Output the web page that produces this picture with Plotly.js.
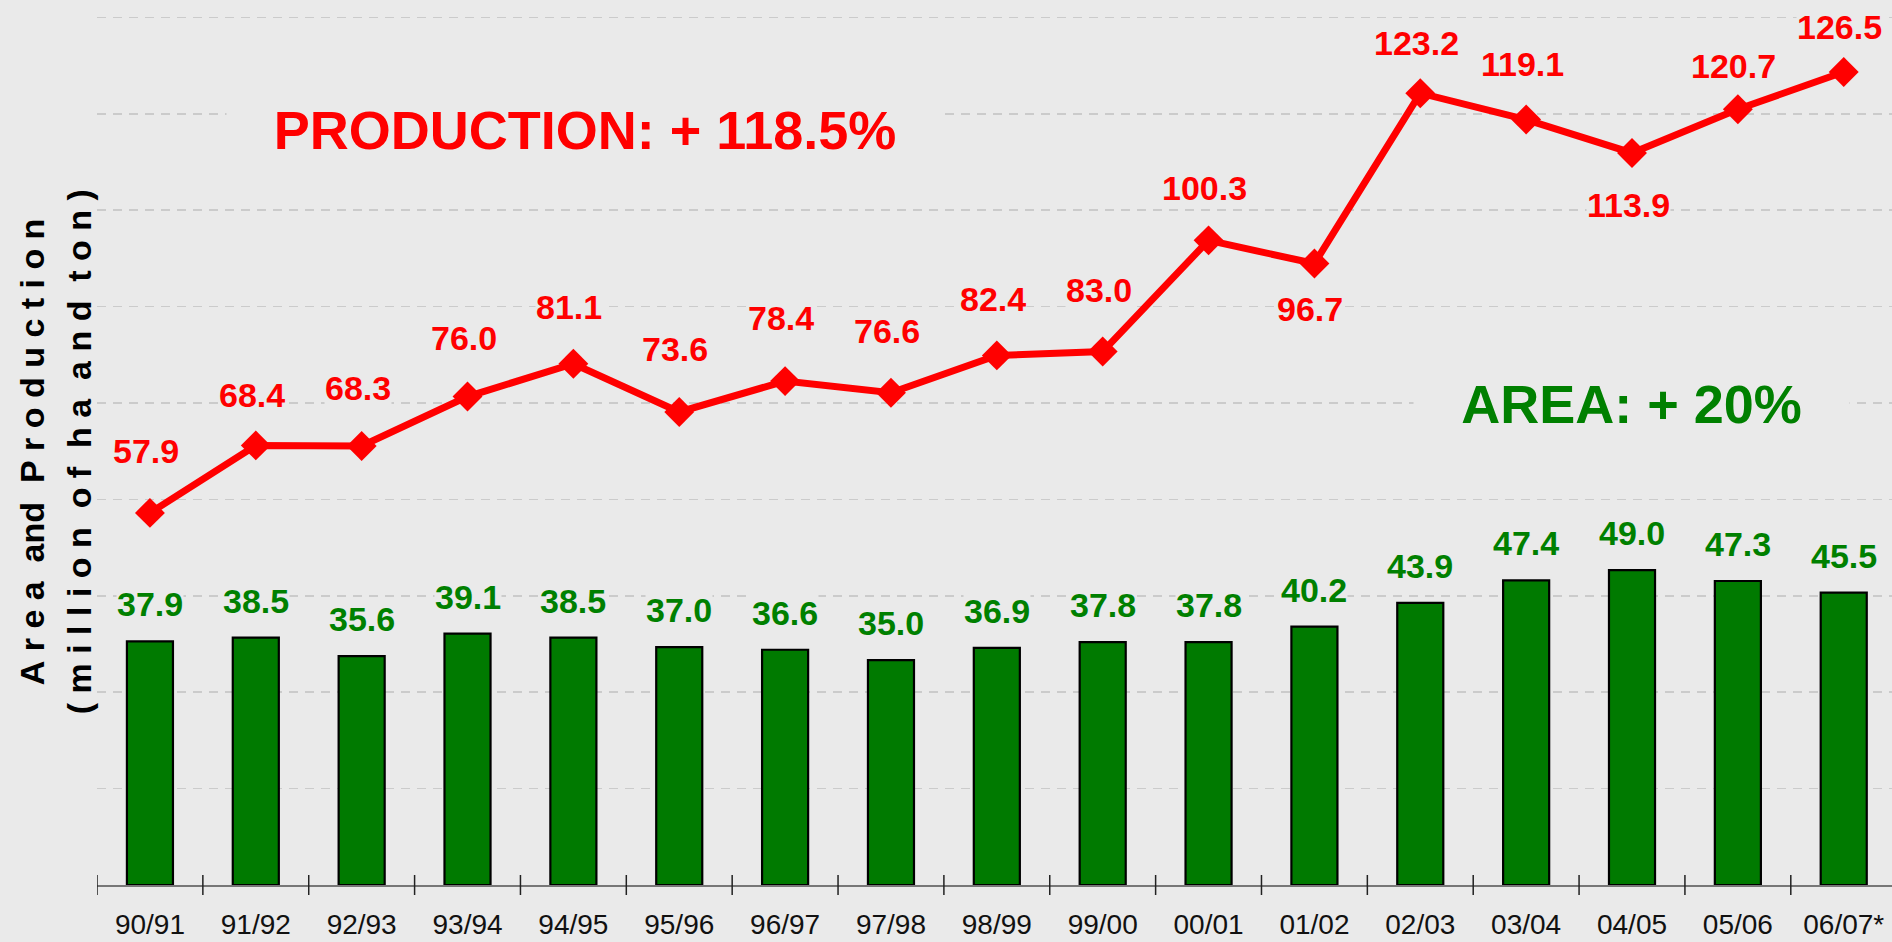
<!DOCTYPE html>
<html>
<head>
<meta charset="utf-8">
<script src="https://cdn.plot.ly/plotly-3.0.1.min.js"></script>
<style>html,body{margin:0;padding:0;background:#eaeaea;}#chart{width:1892px;height:942px;}</style>
</head>
<body>
<div id="chart"></div>
<script>
// ---- data ----
const seasons = ['90/91','91/92','92/93','93/94','94/95','95/96','96/97','97/98','98/99','99/00','00/01','01/02','02/03','03/04','04/05','05/06','06/07*'];
const areaValues = [37.9,38.5,35.6,39.1,38.5,37.0,36.6,35.0,36.9,37.8,37.8,40.2,43.9,47.4,49.0,47.3,45.5];
const productionValues = [57.9,68.4,68.3,76.0,81.1,73.6,78.4,76.6,82.4,83.0,100.3,96.7,123.2,119.1,113.9,120.7,126.5];
// label placement (pixels above (+) / below (-) each production marker)
const productionLabelShift = [62,50,58,59,57,63,63,62,56,62,52,-45,50,56,-52,43,45];

const BG = '#eaeaea';
const RED = '#ff0000';
const GREEN_TEXT = '#008000';
const GREEN_BAR = '#007a00';
const FONT = 'Liberation Sans, Arial, Helvetica, sans-serif';

const traces = [
  {
    type: 'bar', x: seasons, y: areaValues, width: 0.435,
    marker: {color: GREEN_BAR, line: {color: '#000000', width: 2.2}},
    hoverinfo: 'x+y', showlegend: false
  },
  {
    type: 'scatter', mode: 'lines+markers', x: seasons, y: productionValues,
    line: {color: RED, width: 7},
    marker: {symbol: 'diamond', size: 23, color: RED},
    hoverinfo: 'x+y', showlegend: false
  }
];

const annotations = [];
seasons.forEach((s, i) => {
  annotations.push({
    x: s, y: areaValues[i], xref: 'x', yref: 'y',
    text: areaValues[i].toFixed(1), showarrow: false,
    yanchor: 'middle', yshift: 37, bgcolor: BG, borderpad: 0,
    font: {family: FONT, size: 34, color: GREEN_TEXT, weight: 'bold'}
  });
  annotations.push({
    x: s, y: productionValues[i], xref: 'x', yref: 'y',
    text: productionValues[i].toFixed(1), showarrow: false,
    yanchor: 'middle', yshift: productionLabelShift[i], xshift: -4, bgcolor: BG, borderpad: 0,
    font: {family: FONT, size: 34, color: RED, weight: 'bold'}
  });
});

annotations.push({
  xref: 'paper', yref: 'paper', x: 0.2719, y: 0.853, xanchor: 'center', yanchor: 'middle',
  text: 'PRODUCTION: + 118.5%', showarrow: false, width: 716, bgcolor: BG, borderpad: 0,
  font: {family: FONT, size: 54, color: RED, weight: 'bold'}
});
annotations.push({
  xref: 'paper', yref: 'paper', x: 0.8546, y: 0.5435, xanchor: 'center', yanchor: 'middle',
  text: 'AREA: + 20%', showarrow: false, width: 435, bgcolor: BG, borderpad: 0,
  font: {family: FONT, size: 54, color: GREEN_TEXT, weight: 'bold'}
});

const S = '\u00a0';
const W = S + S;
const line1 = ['A','r','e','a'].join(S) + W + 'and' + W + ['P','r','o','d','u','c','t','i','o','n'].join(S);
const line2 = ['(','m','i','l','l','i','o','n'].join(S) + W + ['o','f'].join(S) + W + ['h','a'].join(S) + W + ['a','n','d'].join(S) + W + ['t','o','n',')'].join(S);

annotations.push({
  xref: 'paper', yref: 'paper', x: 0, y: 0.489, xshift: -65, xanchor: 'center', yanchor: 'middle',
  text: line1, textangle: -90, showarrow: false,
  font: {family: FONT, size: 34, color: '#000000', weight: 'bold'}
});
annotations.push({
  xref: 'paper', yref: 'paper', x: 0, y: 0.489, xshift: -18, xanchor: 'center', yanchor: 'middle',
  text: line2, textangle: -90, showarrow: false,
  font: {family: FONT, size: 34, color: '#000000', weight: 'bold'}
});

// category boundary tick marks crossing the axis line
const shapes = [];
for (let k = 0; k < seasons.length; k++) {
  shapes.push({
    type: 'line', xref: 'x', yref: 'paper', x0: k - 0.5, x1: k - 0.5,
    ysizemode: 'pixel', yanchor: 0, y0: -10, y1: 10,
    line: {color: '#222222', width: 1.5}
  });
}

const layout = {
  width: 1892, height: 942,
  margin: {l: 97, r: 0, t: 0, b: 57},
  paper_bgcolor: BG, plot_bgcolor: BG,
  showlegend: false,
  xaxis: {
    type: 'category', range: [-0.5, 16.456],
    showgrid: false, zeroline: false,
    showline: true, linecolor: '#777777', linewidth: 2,
    ticks: '', ticklabelstandoff: 13,
    tickfont: {family: FONT, size: 28, color: '#111111'}
  },
  yaxis: {
    range: [0, 137.7], dtick: 15, tick0: 0,
    showticklabels: false, ticks: '', zeroline: false, showline: false,
    showgrid: true, gridcolor: '#cbcbcb', gridwidth: 1.5, griddash: '9px,7px'
  },
  bargap: 0.5,
  annotations: annotations,
  shapes: shapes
};

Plotly.newPlot('chart', traces, layout, {displayModeBar: false, staticPlot: true});
</script>
</body>
</html>
